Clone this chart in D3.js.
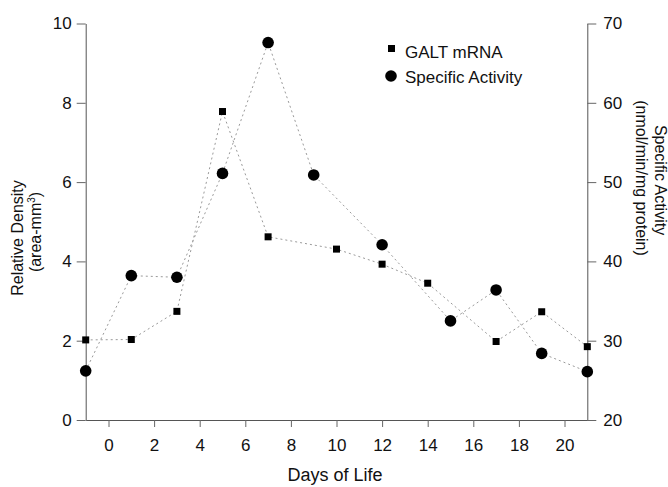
<!DOCTYPE html>
<html>
<head>
<meta charset="utf-8">
<script src="https://cdn.jsdelivr.net/npm/d3@7"></script>
<style>
  body { margin: 0; background: #fff; }
  text { font-family: "Liberation Sans", Arial, sans-serif; fill: #111; }
</style>
</head>
<body>
<script>
  // days and values
  var galtDays = [-1, 1, 3, 5, 7, 10, 12, 14, 17, 19, 21];
  var galtValues = [2.02, 2.03, 2.74, 7.78, 4.62, 4.31, 3.93, 3.45, 1.98, 2.73, 1.85];

  var actDays = [-1, 1, 3, 5, 7, 9, 12, 15, 17, 19, 21];
  var actValues = [26.2, 38.2, 38.0, 51.1, 67.6, 50.9, 42.1, 32.5, 36.4, 28.4, 26.1];

  var xTicks = [0, 2, 4, 6, 8, 10, 12, 14, 16, 18, 20];
  var leftTicks = [0, 2, 4, 6, 8, 10];
  var rightTicks = [20, 30, 40, 50, 60, 70];

  var width = 668,
      height = 487;

  var svg = d3.select("body").append("svg")
      .attr("width", width)
      .attr("height", height);

  var x = d3.scaleLinear().domain([-1, 21]).range([85.7, 587.3]);
  var y = d3.scaleLinear().domain([0, 10]).range([420, 23.5]);
  var y2 = d3.scaleLinear().domain([20, 70]).range([420, 23.5]);

  // axes
  var xAxis = d3.axisBottom(x).tickValues(xTicks).tickSize(7).tickPadding(12).tickSizeOuter(0);
  var gx = svg.append("g").attr("transform", "translate(0,420)").call(xAxis);

  var yAxis = d3.axisLeft(y).tickValues(leftTicks).tickSize(9).tickPadding(5).tickSizeOuter(0);
  var gy = svg.append("g").attr("transform", "translate(85.7,0)").call(yAxis);

  var yAxis2 = d3.axisRight(y2).tickValues(rightTicks).tickSize(9).tickPadding(7).tickSizeOuter(0);
  var gy2 = svg.append("g").attr("transform", "translate(587.3,0)").call(yAxis2);

  [gx, gy, gy2].forEach(function(g) {
    g.select(".domain").attr("stroke", "#555");
    g.selectAll(".tick line").attr("stroke", "#666");
    g.selectAll(".tick text")
      .style("font-family", "'Liberation Sans', Arial, sans-serif")
      .style("font-size", "17px")
      .attr("fill", "#111");
  });

  // axis titles
  svg.append("text")
    .attr("x", 335).attr("y", 481)
    .attr("text-anchor", "middle")
    .style("font-size", "18px")
    .text("Days of Life");

  svg.append("text")
    .attr("transform", "translate(23,238) rotate(-90)")
    .attr("text-anchor", "middle")
    .style("font-size", "16px")
    .text("Relative Density");

  var sub = svg.append("text")
    .attr("transform", "translate(41,232) rotate(-90)")
    .attr("text-anchor", "middle")
    .style("font-size", "16px");
  sub.append("tspan").text("(area-mm");
  sub.append("tspan").attr("dy", -6).style("font-size", "10px").text("3");
  sub.append("tspan").attr("dy", 6).text(")");

  svg.append("text")
    .attr("transform", "translate(655,180) rotate(90)")
    .attr("text-anchor", "middle")
    .style("font-size", "16px")
    .text("Specific Activity");

  svg.append("text")
    .attr("transform", "translate(636,178) rotate(90)")
    .attr("text-anchor", "middle")
    .style("font-size", "16px")
    .text("(nmol/min/mg protein)");

  // connecting lines, faint and dotted like the scan
  var galtLine = d3.line()
    .x(function(d, i) { return x(galtDays[i]); })
    .y(function(d) { return y(d); });

  var actLine = d3.line()
    .x(function(d, i) { return x(actDays[i]); })
    .y(function(d) { return y2(d); });

  svg.append("path")
    .attr("d", galtLine(galtValues))
    .attr("fill", "none")
    .attr("stroke", "#9a9a9a")
    .attr("stroke-width", 1)
    .attr("stroke-dasharray", "2,3");

  svg.append("path")
    .attr("d", actLine(actValues))
    .attr("fill", "none")
    .attr("stroke", "#9a9a9a")
    .attr("stroke-width", 1)
    .attr("stroke-dasharray", "2,3");

  // markers
  svg.append("g").selectAll("rect")
    .data(galtValues)
    .enter()
    .append("rect")
    .attr("x", function(d, i) { return x(galtDays[i]) - 3.5; })
    .attr("y", function(d) { return y(d) - 3.5; })
    .attr("width", 7)
    .attr("height", 7)
    .attr("fill", "#000");

  svg.append("g").selectAll("circle")
    .data(actValues)
    .enter()
    .append("circle")
    .attr("cx", function(d, i) { return x(actDays[i]); })
    .attr("cy", function(d) { return y2(d); })
    .attr("r", 5.8)
    .attr("fill", "#000");

  // legend
  var legend = svg.append("g");
  legend.append("rect")
    .attr("x", 388).attr("y", 45)
    .attr("width", 7).attr("height", 7)
    .attr("fill", "#000");
  legend.append("text")
    .attr("x", 405).attr("y", 58)
    .style("font-size", "17px")
    .text("GALT mRNA");
  legend.append("circle")
    .attr("cx", 391).attr("cy", 76)
    .attr("r", 5.8)
    .attr("fill", "#000");
  legend.append("text")
    .attr("x", 405).attr("y", 83)
    .style("font-size", "17px")
    .text("Specific Activity");
</script>
</body>
</html>
